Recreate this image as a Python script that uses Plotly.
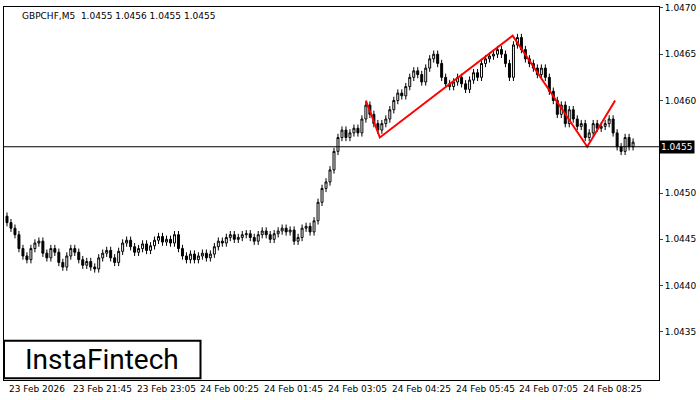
import plotly.graph_objects as go

closes = [1.04468,1.04462,1.04455,1.04440,1.04432,1.04428,1.04440,1.04446,1.04448,1.04435,
1.04430,1.04440,1.04436,1.04425,1.04420,1.04432,1.04440,1.04436,1.04428,1.04422,
1.04426,1.04420,1.04418,1.04430,1.04435,1.04438,1.04430,1.04425,1.04437,1.04446,
1.04449,1.04442,1.04436,1.04440,1.04445,1.04438,1.04443,1.04449,1.04453,1.04447,
1.04450,1.04446,1.04455,1.04440,1.04432,1.04428,1.04434,1.04428,1.04432,1.04435,
1.04430,1.04434,1.04442,1.04448,1.04446,1.04452,1.04455,1.04450,1.04452,1.04455,
1.04456,1.04452,1.04448,1.04455,1.04459,1.04455,1.04450,1.04456,1.04459,1.04462,
1.04458,1.04460,1.04448,1.04452,1.04462,1.04464,1.04458,1.04470,1.04490,1.04505,
1.04512,1.04525,1.04545,1.04560,1.04568,1.04560,1.04565,1.04570,1.04565,1.04580,
1.04595,1.04585,1.04575,1.04568,1.04575,1.04580,1.04590,1.04600,1.04608,1.04605,
1.04615,1.04625,1.04632,1.04628,1.04620,1.04635,1.04645,1.04650,1.04640,1.04625,
1.04618,1.04615,1.04620,1.04625,1.04618,1.04612,1.04622,1.04630,1.04625,1.04640,
1.04645,1.04648,1.04650,1.04655,1.04650,1.04640,1.04625,1.04660,1.04668,1.04655,
1.04645,1.04640,1.04635,1.04628,1.04635,1.04625,1.04610,1.04600,1.04585,1.04595,
1.04575,1.04590,1.04580,1.04572,1.04575,1.04560,1.04565,1.04575,1.04570,1.04572,
1.04575,1.04580,1.04565,1.04550,1.04545,1.04560,1.04550,1.04555]
first_open = 1.04475
tick_bars = [0,16,32,48,64,80,96,112,128,144]
tick_labels = ["23 Feb 2026","23 Feb 21:45","23 Feb 23:05","24 Feb 00:25","24 Feb 01:45",
               "24 Feb 03:05","24 Feb 04:25","24 Feb 05:45","24 Feb 07:05","24 Feb 08:25"]
price_ticks = [1.0435,1.0440,1.0445,1.0450,1.0460,1.0465,1.0470]
pattern_x = [90,93.5,126.8,145.5,152.5]
pattern_y = [1.0460,1.0456,1.0467,1.0455,1.0460]
current = 1.0455

opens = [first_open] + closes[:-1]
highs = [max(o,c)+0.00004 for o,c in zip(opens,closes)]
lows = [min(o,c)-0.00004 for o,c in zip(opens,closes)]
xs = list(range(len(closes)))

fig = go.Figure()
fig.add_trace(go.Candlestick(x=xs, open=opens, high=highs, low=lows, close=closes,
    increasing=dict(line=dict(color="black", width=1), fillcolor="white"),
    decreasing=dict(line=dict(color="black", width=1), fillcolor="black"),
    whiskerwidth=0, showlegend=False, hoverinfo="skip"))
fig.add_trace(go.Scatter(x=pattern_x, y=pattern_y, mode="lines",
    line=dict(color="#ff0000", width=2), showlegend=False, hoverinfo="skip"))

fig.add_hline(y=current, line=dict(color="black", width=1))

fig.update_layout(width=700, height=400, margin=dict(l=3, r=40, t=3, b=20),
    paper_bgcolor="white", plot_bgcolor="white",
    font=dict(family="DejaVu Sans", size=9, color="black"),
    xaxis=dict(range=[-0.75, 163.5], showgrid=False, rangeslider=dict(visible=False),
               showticklabels=False, showline=True, mirror=True, linecolor="black", zeroline=False),
    yaxis=dict(side="right", range=[1.04298, 1.04701], tickvals=price_ticks,
               tickformat=".4f", ticks="outside", ticklen=3, showgrid=False,
               showline=True, mirror=True, linecolor="black", zeroline=False))

for b, t in zip(tick_bars, tick_labels):
    fig.add_annotation(x=b, y=0, yref="paper", yshift=-2, text=t, showarrow=False,
                       xanchor="left", yanchor="top", font=dict(size=9))

fig.add_annotation(x=1, y=current, xref="paper", text="1.0455", showarrow=False,
                   xanchor="left", bgcolor="black", font=dict(color="white", size=9),
                   borderpad=1)
fig.add_annotation(x=0.025, y=0.995, xref="paper", yref="paper",
                   text="GBPCHF,M5  1.0455 1.0456 1.0455 1.0455", showarrow=False,
                   xanchor="left", yanchor="top", font=dict(size=9))
fig.add_shape(type="rect", xref="paper", yref="paper", x0=0.0, x1=0.30, y0=0.005, y1=0.105,
              line=dict(color="black", width=2), fillcolor="white")
fig.add_annotation(x=0.15, y=0.055, xref="paper", yref="paper", text="InstaFintech",
                   showarrow=False, xanchor="center", yanchor="middle",
                   font=dict(size=28, family="Roboto", color="black"))

fig.write_html("out.html", config={"displayModeBar": False})
with open("out.html", encoding="utf-8") as f:
    html = f.read()
html = html.replace("<body>", '<body style="margin:0;padding:0">', 1)
with open("out.html", "w", encoding="utf-8") as f:
    f.write(html)
